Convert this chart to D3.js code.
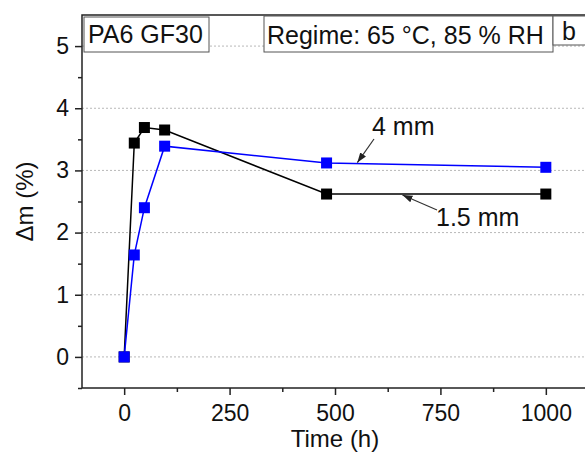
<!DOCTYPE html>
<html>
<head>
<meta charset="utf-8">
<script src="https://cdn.jsdelivr.net/npm/d3@7"></script>
<style>
  body { margin: 0; background: #fff; }
  svg { display: block; font-family: Arial, "Liberation Sans", sans-serif; }
</style>
</head>
<body>
<div id="chart"></div>
<script>
// data
const timeHours = [0, 24, 48, 96, 480, 1000];
const thin15mm = [0, 3.44, 3.69, 3.65, 2.62, 2.62];
const thick4mm = [0, 1.64, 2.40, 3.39, 3.12, 3.05];
const xTicks = [0, 250, 500, 750, 1000];
const yTicks = [0, 1, 2, 3, 4, 5];

const width = 585, height = 459;
const margin = {top: 15, right: -3, bottom: 71, left: 82};
const font = "Arial, 'Liberation Sans', sans-serif";

const svg = d3.select("#chart").append("svg")
    .attr("width", width)
    .attr("height", height);

const x = d3.scaleLinear().domain([-100, 1100]).range([margin.left, width - margin.right]);
const y = d3.scaleLinear().domain([-0.5, 5.5]).range([height - margin.bottom, margin.top]);

// grid
svg.append("g")
    .selectAll("line")
    .data(yTicks)
    .join("line")
    .attr("x1", margin.left)
    .attr("x2", width)
    .attr("y1", d => y(d))
    .attr("y2", d => y(d))
    .attr("stroke", "#b8b8b8")
    .attr("stroke-width", 1)
    .attr("stroke-dasharray", "2,2");

// frame
svg.append("rect")
    .attr("x", margin.left)
    .attr("y", margin.top)
    .attr("width", x(1100) - margin.left)
    .attr("height", y(-0.5) - margin.top)
    .attr("fill", "none")
    .attr("stroke", "#222")
    .attr("stroke-width", 1.5);

// x axis
svg.append("g")
    .attr("transform", `translate(0,${y(-0.5)})`)
    .call(d3.axisBottom(x).tickValues(xTicks).tickSize(7).tickPadding(10).tickFormat(d3.format("d")))
    .call(g => g.select(".domain").remove());
svg.append("g")
    .attr("transform", `translate(0,${y(-0.5)})`)
    .call(d3.axisBottom(x).tickValues([125, 375, 625, 875]).tickSize(4).tickFormat(""))
    .call(g => g.select(".domain").remove());

// y axis
svg.append("g")
    .attr("transform", `translate(${margin.left},0)`)
    .call(d3.axisLeft(y).tickValues(yTicks).tickSize(7).tickPadding(6).tickFormat(d3.format("d")))
    .call(g => g.select(".domain").remove());
svg.append("g")
    .attr("transform", `translate(${margin.left},0)`)
    .call(d3.axisLeft(y).tickValues([-0.5, 0.5, 1.5, 2.5, 3.5, 4.5]).tickSize(4).tickFormat(""))
    .call(g => g.select(".domain").remove());

svg.selectAll(".tick line").attr("stroke", "#222").attr("stroke-width", 1.5);
svg.selectAll(".tick text")
    .style("font-size", "23px")
    .style("font-family", font)
    .attr("fill", "#111");

// axis titles
svg.append("text")
    .attr("x", x(500))
    .attr("y", 447)
    .attr("text-anchor", "middle")
    .attr("font-size", 24)
    .attr("fill", "#111")
    .text("Time (h)");
svg.append("text")
    .attr("transform", `translate(33,${y(2.5)}) rotate(-90)`)
    .attr("text-anchor", "middle")
    .attr("font-size", 24)
    .attr("fill", "#111")
    .text("Δm (%)");

// series
const series = [
    {name: "1.5 mm", values: thin15mm, color: "#000000"},
    {name: "4 mm", values: thick4mm, color: "#0000ff"}
];
const line = d3.line()
    .x((d, i) => x(timeHours[i]))
    .y(d => y(d));
const ms = 11;
series.forEach(s => {
    svg.append("path")
        .datum(s.values)
        .attr("fill", "none")
        .attr("stroke", s.color)
        .attr("stroke-width", 1.5)
        .attr("d", line);
    svg.append("g")
        .selectAll("rect")
        .data(s.values)
        .join("rect")
        .attr("x", (d, i) => x(timeHours[i]) - ms / 2)
        .attr("y", d => y(d) - ms / 2)
        .attr("width", ms)
        .attr("height", ms)
        .attr("fill", s.color);
});

// annotations
svg.append("defs").append("marker")
    .attr("id", "arr")
    .attr("viewBox", "0 0 10 10")
    .attr("refX", 10).attr("refY", 5)
    .attr("markerUnits", "userSpaceOnUse")
    .attr("markerWidth", 10).attr("markerHeight", 10)
    .attr("orient", "auto")
    .append("path")
    .attr("d", "M0,1.5 L10,5 L0,8.5 Z")
    .attr("fill", "#222");

svg.append("text")
    .attr("x", 372).attr("y", 135)
    .attr("font-size", 25).attr("fill", "#111")
    .text("4 mm");
svg.append("line")
    .attr("x1", 374).attr("y1", 139)
    .attr("x2", x(553)).attr("y2", y(3.11) - 1)
    .attr("stroke", "#333").attr("stroke-width", 1.2)
    .attr("marker-end", "url(#arr)");

svg.append("text")
    .attr("x", 436).attr("y", 226)
    .attr("font-size", 25).attr("fill", "#111")
    .text("1.5 mm");
svg.append("line")
    .attr("x1", 437).attr("y1", 210)
    .attr("x2", x(660)).attr("y2", y(2.62) + 1)
    .attr("stroke", "#333").attr("stroke-width", 1.2)
    .attr("marker-end", "url(#arr)");

// legend boxes
function box(x0, y0, w, h, label, base, pad) {
    svg.append("rect")
        .attr("x", x0).attr("y", y0)
        .attr("width", w).attr("height", h)
        .attr("fill", "#fff")
        .attr("stroke", "#555")
        .attr("stroke-width", 1);
    svg.append("text")
        .attr("x", x0 + pad).attr("y", y0 + base)
        .attr("font-size", 25).attr("fill", "#111")
        .text(label);
}
box(84, 17, 125, 35, "PA6 GF30", 26, 4);
box(264, 16, 289, 36, "Regime: 65 °C, 85 % RH", 28, 3);
box(553, 16, 34, 29, "b", 24, 9);
</script>
</body>
</html>
